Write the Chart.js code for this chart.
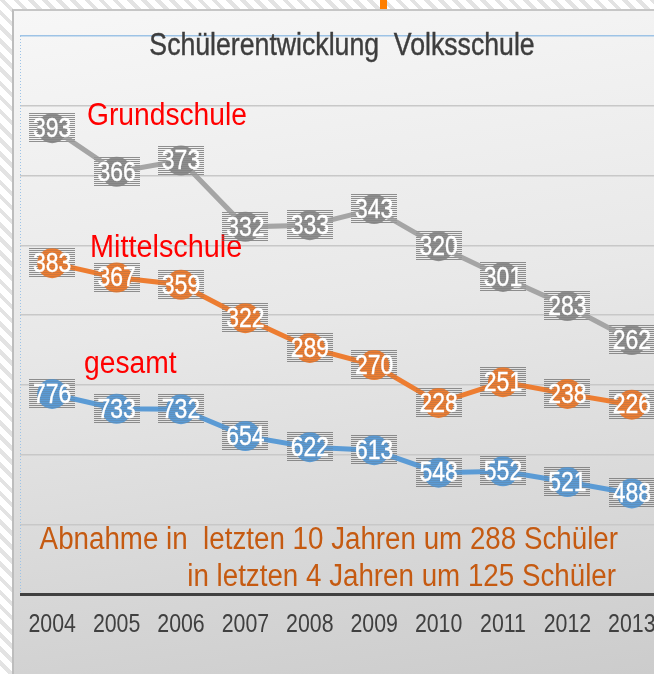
<!DOCTYPE html>
<html>
<head>
<meta charset="utf-8">
<script src="https://cdn.jsdelivr.net/npm/chart.js@4"></script>
<style>
  html, body { margin: 0; padding: 0; width: 654px; height: 674px; overflow: hidden; }
  body {
    position: relative;
    background: repeating-linear-gradient(45deg, #ffffff 0 6px, #e3e3e3 6px 10px);
  }
  #panel {
    position: absolute; left: 12px; top: 9px; right: 0; bottom: 0;
    border-left: 2px solid #bdbdbd; border-top: 2px solid #c6c6c6;
    background: linear-gradient(172deg, #f7f7f7 0%, #e8e8e8 45%, #cccccc 100%);
  }
  #tab { position: absolute; left: 380px; top: 0; width: 7px; height: 9px; background: #ff7f00; }
  #wrap { position: absolute; left: 0; top: 0; width: 680px; height: 674px; }
</style>
</head>
<body>
<div id="panel"></div>
<div id="tab"></div>
<div id="wrap"><canvas id="chart" width="680" height="674"></canvas></div>
<script>
const years = ["2004", "2005", "2006", "2007", "2008", "2009", "2010", "2011", "2012", "2013"];
const grundschule = [393, 366, 373, 332, 333, 343, 320, 301, 283, 262];
const mittelschule = [383, 367, 359, 322, 289, 270, 228, 251, 238, 226];
const gesamt = [776, 733, 732, 654, 622, 613, 548, 552, 521, 488];

const FONT = '"Liberation Sans", Arial, sans-serif';

// narrow look: Liberation Sans squeezed horizontally
function narrowText(ctx, str, x, y, size, color, align, squeeze, thicken) {
  ctx.save();
  ctx.font = size + "px " + FONT;
  ctx.fillStyle = color;
  ctx.textAlign = align || "left";
  ctx.translate(x, y);
  ctx.scale(squeeze || 0.82, 1);
  ctx.fillText(str, 0, 0);
  if (thicken) {
    ctx.strokeStyle = color;
    ctx.lineWidth = thicken;
    ctx.strokeText(str, 0, 0);
  }
  ctx.restore();
}

function stripes(ctx, pt, alpha) {
  const w = 46, h = 30;
  const x0 = Math.round(pt.x - w / 2);
  const y0 = Math.round(pt.y - h / 2);
  ctx.fillStyle = "rgba(100,100,100," + alpha + ")";
  for (let y = y0; y < y0 + h; y += 2) ctx.fillRect(x0, y, w, 1);
}

// striped boxes behind and over the dots, white numbers on top
const valueBoxes = {
  id: "valueBoxes",
  beforeDatasetsDraw(chart) {
    const ctx = chart.ctx;
    ctx.save();
    chart.data.datasets.forEach((ds, i) => {
      chart.getDatasetMeta(i).data.forEach((pt) => stripes(ctx, pt, 0.6));
    });
    ctx.restore();
  },
  afterDatasetsDraw(chart) {
    const ctx = chart.ctx;
    chart.data.datasets.forEach((ds, i) => {
      chart.getDatasetMeta(i).data.forEach((pt, j) => {
        ctx.save();
        stripes(ctx, pt, 0.22);
        ctx.textBaseline = "middle";
        narrowText(ctx, String(ds.data[j]), pt.x, pt.y + 1, 28, "#ffffff", "center", 0.82, 0.4);
        ctx.restore();
      });
    });
  }
};

// title, series names, year labels and the note at the bottom
const texts = {
  id: "texts",
  beforeDatasetsDraw(chart) {
    const ctx = chart.ctx;
    const area = chart.chartArea;
    ctx.save();
    ctx.strokeStyle = "#9dc3e6";
    ctx.lineWidth = 1;
    ctx.setLineDash([1, 2]);
    ctx.beginPath();
    ctx.moveTo(area.left + 0.5, area.top);
    ctx.lineTo(area.left + 0.5, area.bottom);
    ctx.stroke();
    ctx.restore();

    ctx.save();
    ctx.textBaseline = "alphabetic";
    narrowText(ctx, "Schülerentwicklung  Volksschule", 342, 55, 31, "#3d3d3d", "center", 0.86, 0.4);

    narrowText(ctx, "Grundschule", 87, 125, 31, "#ff0000", "left", 0.91);
    narrowText(ctx, "Mittelschule", 90, 257, 31, "#ff0000", "left", 0.93);
    narrowText(ctx, "gesamt", 84, 373, 31, "#ff0000", "left", 0.91);

    narrowText(ctx, "Abnahme in  letzten 10 Jahren um 288 Schüler", 618, 549, 31, "#c55a11", "right", 0.895);
    narrowText(ctx, "in letzten 4 Jahren um 125 Schüler", 616, 586, 31, "#c55a11", "right", 0.895);

    const xs = chart.scales.x;
    ctx.textBaseline = "middle";
    years.forEach((y, i) => {
      narrowText(ctx, y, xs.getPixelForValue(i), 625, 26, "#404040", "center");
    });
    ctx.restore();
  }
};

function series(label, data, axis, line, dot) {
  return {
    label, data, yAxisID: axis,
    borderColor: line, backgroundColor: dot,
    pointBackgroundColor: dot, pointBorderWidth: 0,
    pointRadius: 15, pointHoverRadius: 15,
    borderWidth: 5, tension: 0
  };
}

new Chart(document.getElementById("chart"), {
  type: "line",
  data: {
    labels: years,
    datasets: [
      series("Grundschule", grundschule, "yGrund", "#a5a5a5", "#8e8e8e"),
      series("Mittelschule", mittelschule, "yMittel", "#ed7d31", "#ed7d31"),
      series("gesamt", gesamt, "yGesamt", "#5b9bd5", "#5b9bd5")
    ]
  },
  options: {
    responsive: false,
    animation: false,
    events: [],
    layout: { padding: { top: 36, left: 20, right: 16, bottom: 72 } },
    plugins: { legend: { display: false }, tooltip: { enabled: false } },
    scales: {
      x: {
        offset: true,
        grid: { display: false },
        border: { display: false },
        ticks: { display: false }
      },
      yGrid: {
        type: "linear", position: "left", min: 0, max: 8,
        ticks: { display: false, stepSize: 1 },
        grid: {
          drawTicks: false,
          color: (c) => c.tick.value === 0 ? "#404040" : c.tick.value === 8 ? "#9dc3e6" : "#c8c8c8",
          lineWidth: (c) => c.tick.value === 0 ? 3 : 1.5
        },
        border: { display: false }
      },
      yGrund: { display: false, min: 105, max: 450 },
      yMittel: { display: false, min: 16, max: 635 },
      yGesamt: { display: false, min: 197, max: 1812 }
    }
  },
  plugins: [texts, valueBoxes]
});
</script>
</body>
</html>
